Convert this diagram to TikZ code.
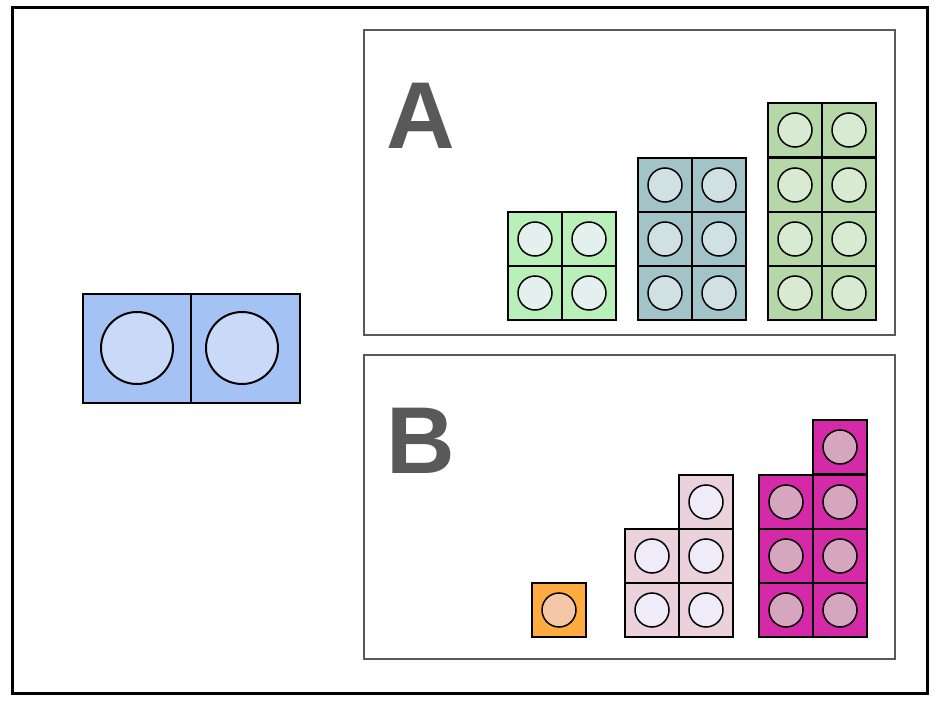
\documentclass[tikz,border=0pt]{standalone}
\usepackage{fontspec}
\setmainfont{Liberation Sans}
\definecolor{bluef}{HTML}{A4C2F4}\definecolor{bluec}{HTML}{C9DAF8}
\definecolor{g1f}{HTML}{B9F0B9}\definecolor{g1c}{HTML}{E3F0EE}
\definecolor{g2f}{HTML}{A2C4C9}\definecolor{g2c}{HTML}{D0E0E3}
\definecolor{g3f}{HTML}{B6D7A8}\definecolor{g3c}{HTML}{D9EAD3}
\definecolor{orf}{HTML}{FFAB40}\definecolor{orc}{HTML}{F4C7A6}
\definecolor{pkf}{HTML}{EAD1DC}\definecolor{pkc}{HTML}{F0EBF8}
\definecolor{mgf}{HTML}{D42AA8}\definecolor{mgc}{HTML}{D5A6BD}
\definecolor{lab}{HTML}{595959}
\newcommand{\cell}[4]{% x y fill circ (top-left)
  \draw[line width=1.5pt,fill=#3] (#1,#2) rectangle ++(54,54);
  \draw[line width=1.5pt,fill=#4] (#1+27,#2+27) circle (17);}
\begin{document}
\begin{tikzpicture}[x=1pt,y=-1pt]
\useasboundingbox (0,0) rectangle (946,706);
\draw[line width=3pt] (12,8) rectangle (927,693);
\draw[line width=2pt,fill=bluef] (83,294) rectangle (191,403);
\draw[line width=2pt,fill=bluef] (191,294) rectangle (300,403);
\draw[line width=2pt,fill=bluec] (137,348) circle (36);
\draw[line width=2pt,fill=bluec] (242,348) circle (36);
\draw[line width=2pt,draw=lab] (364,30) rectangle (895,335);
\draw[line width=2pt,draw=lab] (364,355) rectangle (895,659);
\node[text=lab,font=\bfseries\fontsize{95}{95}\selectfont] (la) at (421,116) {A};
\node[text=lab,font=\bfseries\fontsize{95}{95}\selectfont] (lb) at (421,441) {B};
\foreach \x in {508,562}\foreach \y in {212,266}{\cell{\x}{\y}{g1f}{g1c}}
\foreach \x in {638,692}\foreach \y in {158,212,266}{\cell{\x}{\y}{g2f}{g2c}}
\foreach \x in {768,822}\foreach \y in {103,158,212,266}{\cell{\x}{\y}{g3f}{g3c}}
\cell{532}{583}{orf}{orc}
\foreach \y in {529,583}{\cell{625}{\y}{pkf}{pkc}}
\foreach \y in {475,529,583}{\cell{679}{\y}{pkf}{pkc}}
\foreach \y in {475,529,583}{\cell{759}{\y}{mgf}{mgc}}
\foreach \y in {420,475,529,583}{\cell{813}{\y}{mgf}{mgc}}
\end{tikzpicture}
\end{document}
